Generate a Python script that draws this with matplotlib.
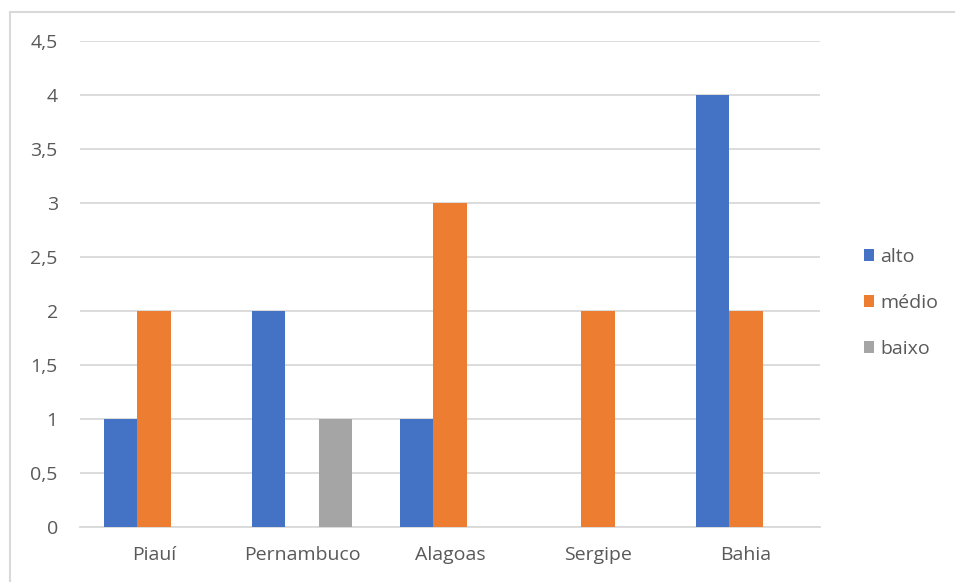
import numpy as np
import matplotlib
matplotlib.use("Agg")
import matplotlib.pyplot as plt
from matplotlib.lines import Line2D

# dados
estados = ["Piauí", "Pernambuco", "Alagoas", "Sergipe", "Bahia"]
alto = [1, 2, 1, 0, 4]
medio = [2, 0, 3, 2, 2]
baixo = [0, 1, 0, 0, 0]
series = ["alto", "médio", "baixo"]
cores = ["#4472C4", "#ED7D31", "#A5A5A5"]
yticks = [0, 0.5, 1, 1.5, 2, 2.5, 3, 3.5, 4, 4.5]
ytick_labels = ["0", "0,5", "1", "1,5", "2", "2,5", "3", "3,5", "4", "4,5"]

plt.rcParams['font.family'] = ['Open Sans', 'DejaVu Sans']

fig = plt.figure(figsize=(9.55, 5.82), dpi=100)
ax = fig.add_axes([80/955, 1 - 527/582, 740/955, 486/582])

x = np.arange(len(estados))
largura = 0.223
for i, (nome, vals) in enumerate(zip(series, [alto, medio, baixo])):
    ax.bar(x + (i - 1) * largura, vals, width=largura, color=cores[i],
           label=nome, zorder=3)

ax.set_xlim(-0.5, len(estados) - 0.5)
ax.set_ylim(0, 4.5)
ax.set_yticks(yticks)
ax.set_yticklabels(ytick_labels)
ax.set_xticks(x)
ax.set_xticklabels(estados)

ax.grid(axis='y', color='#D9D9D9', linewidth=1.3, zorder=0)
for s in ['top', 'right', 'left']:
    ax.spines[s].set_visible(False)
ax.spines['bottom'].set_color('#D9D9D9')
ax.spines['bottom'].set_linewidth(1.3)
ax.tick_params(axis='both', length=0, labelsize=14, colors='#595959')
ax.tick_params(axis='y', pad=16)
ax.tick_params(axis='x', pad=14)

leg = fig.legend(loc='center left', bbox_to_anchor=(846/955, 1 - 303/582),
                 frameon=False, fontsize=14, handlelength=0.55,
                 handleheight=0.55, handletextpad=0.3, labelspacing=1.45)
for t in leg.get_texts():
    t.set_color('#595959')

# moldura do gráfico
fig.add_artist(Line2D([10/955, 1], [1 - 12/582, 1 - 12/582],
                      color='#D9D9D9', linewidth=1.5))
fig.add_artist(Line2D([10/955, 10/955], [0, 1 - 12/582],
                      color='#D9D9D9', linewidth=1.5))

fig.savefig("out.png", dpi=100)
